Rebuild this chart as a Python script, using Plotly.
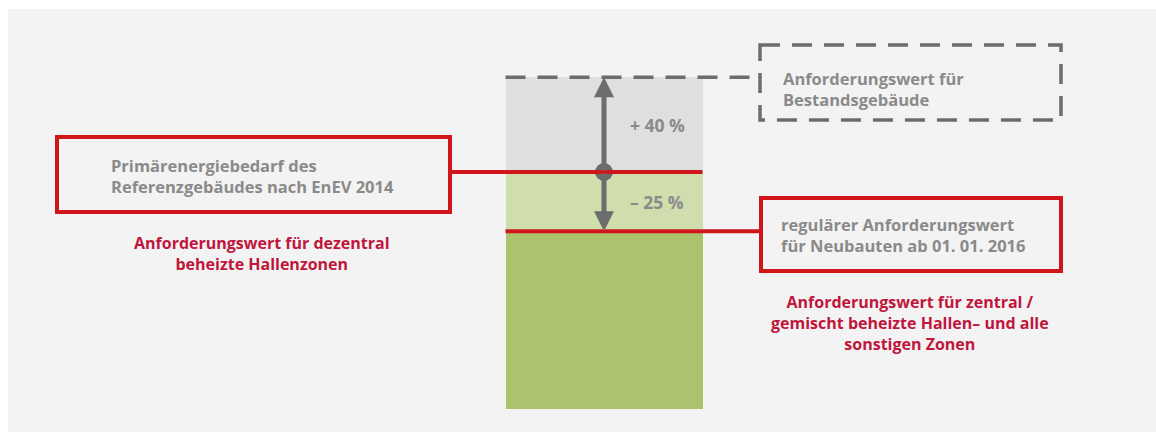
import plotly.graph_objects as go

# ---- data ----
segments = ["Anforderungswert Neubau", "Referenz (−25 %)", "Bestand (+40 %)"]
segment_values = [75, 25, 40]          # stacked: 0-75, 75-100, 100-140
segment_colors = ["#acc26d", "#d0ddad", "#dfdfdf"]
reference_value = segment_values[0] + segment_values[1]   # 100
new_value = segment_values[0]                               # 75
existing_value = sum(segment_values)                        # 140

pct_labels = ["+ 40 %", "– 25 %"]

box1_lines = ["Primärenergiebedarf des", "Referenzgebäudes nach EnEV 2014"]
red_left_lines = ["Anforderungswert für dezentral", "beheizte Hallenzonen"]
box_dash_lines = ["Anforderungswert für", "Bestandsgebäude"]
box2_lines = ["regulärer Anforderungswert", "für Neubauten ab 01. 01. 2016"]
red_right_lines = ["Anforderungswert für zentral /", "gemischt beheizte Hallen– und alle", "sonstigen Zonen"]

W, H = 1156, 432
BAR_X, BAR_W = 604, 197
PX_PER_UNIT, ZERO_PX = 2.37, 409

GREY_TXT = "#8a8a8a"
RED_TXT = "#c0163c"
RED_LINE = "#d0161b"
DARK = "#6d6d6d"
FONT = "Open Sans"
WEIGHT = 700

def py(p):  # pixel y -> paper y
    return 1 - p / H

fig = go.Figure()
base = 0
for name, v, c in zip(segments, segment_values, segment_colors):
    fig.add_trace(go.Bar(x=[BAR_X], y=[v], base=[base], width=BAR_W, name=name,
                         marker=dict(color=c, line=dict(width=0)), showlegend=False,
                         hoverinfo="skip"))
    base += v

shapes = []
# background panel
shapes.append(dict(type="rect", xref="paper", yref="paper", x0=8 / W, x1=1, y0=0, y1=py(9),
                   fillcolor="#f3f3f3", line=dict(width=0), layer="below"))
bx0, bx1 = BAR_X - BAR_W / 2, BAR_X + BAR_W / 2
# red lines
shapes.append(dict(type="line", xref="x", yref="y", x0=452, x1=bx1, y0=reference_value, y1=reference_value,
                   line=dict(color=RED_LINE, width=4)))
shapes.append(dict(type="line", xref="x", yref="y", x0=bx0, x1=760, y0=new_value, y1=new_value,
                   line=dict(color=RED_LINE, width=4)))
# dashed line
shapes.append(dict(type="line", xref="x", yref="y", x0=bx0, x1=754, y0=existing_value, y1=existing_value,
                   line=dict(color=DARK, width=3.5, dash="20px,12px")))
# boxes
shapes.append(dict(type="rect", xref="x", yref="paper", x0=57, x1=450, y0=py(137), y1=py(212),
                   line=dict(color=RED_LINE, width=4)))
shapes.append(dict(type="rect", xref="x", yref="paper", x0=761, x1=1061, y0=py(198), y1=py(271),
                   line=dict(color=RED_LINE, width=4)))
shapes.append(dict(type="rect", xref="x", yref="paper", x0=760, x1=1061, y0=py(45), y1=py(120),
                   line=dict(color=DARK, width=3.5, dash="20px,12px")))

ann = []
def txt(lines, x, yc, color, anchor="left", size=16.5):
    ann.append(dict(text="<br>".join(lines), x=x, xref="x", y=py(yc), yref="paper",
                    xanchor=anchor, yanchor="middle", align=anchor, showarrow=False,
                    font=dict(family=FONT, size=size, color=color, weight=WEIGHT)))

txt(box1_lines, 109, 175.5, GREY_TXT)
txt(red_left_lines, 262, 253.5, RED_TXT, "center", 16)
txt(box_dash_lines, 781, 88.5, GREY_TXT)
txt(box2_lines, 779, 234.5, GREY_TXT)
txt(red_right_lines, 910, 322.5, RED_TXT, "center", 16)

# percentage labels at segment midpoints
for label, yv in ((pct_labels[0], reference_value + segment_values[2] / 2),
                  (pct_labels[1], new_value + segment_values[1] / 2)):
    ann.append(dict(text=label, x=657, y=yv, xref="x", yref="y", showarrow=False,
                    font=dict(family=FONT, size=17.5, color=GREY_TXT, weight=WEIGHT)))

# double arrow from the reference point
for tip in (existing_value, new_value):
    ann.append(dict(x=BAR_X, y=tip, xref="x", yref="y", ax=BAR_X, ay=reference_value,
                    axref="x", ayref="y", text="", showarrow=True, arrowhead=2,
                    arrowsize=0.8, arrowwidth=5, arrowcolor=DARK, standoff=0))

fig.add_trace(go.Scatter(x=[BAR_X], y=[reference_value], mode="markers",
                         marker=dict(size=18, color=DARK), showlegend=False, hoverinfo="skip"))

fig.update_layout(
    width=W, height=H, margin=dict(l=0, r=0, t=0, b=0),
    paper_bgcolor="white", plot_bgcolor="rgba(0,0,0,0)",
    barmode="overlay", bargap=0,
    xaxis=dict(range=[0, W], visible=False, fixedrange=True),
    yaxis=dict(range=[(ZERO_PX - H) / PX_PER_UNIT, ZERO_PX / PX_PER_UNIT], visible=False, fixedrange=True),
    shapes=shapes, annotations=ann, showlegend=False,
)

fig.write_html("out.html")
